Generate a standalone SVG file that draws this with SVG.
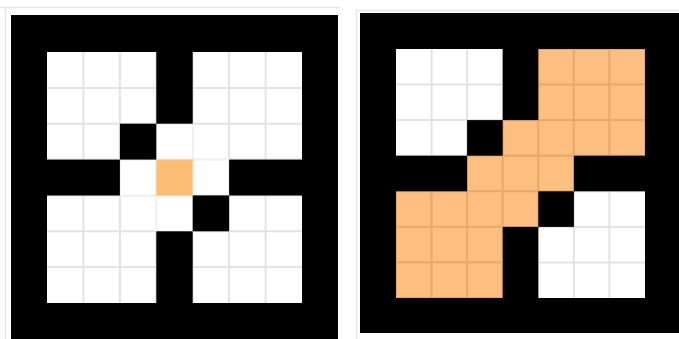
<svg xmlns="http://www.w3.org/2000/svg" width="679" height="339" viewBox="0 0 679 339">
<style>
.gl{fill:none;stroke:#e3e3e3;stroke-width:2}
.gf{fill:#fff;stroke:#f1f1f1;stroke-width:2}
.oc{fill:#fdbf80;stroke:#eaa96b;stroke-width:2}
.blk{fill:#000}
.wht{fill:#fff}
.frame{fill:#000;fill-rule:evenodd}
.edge{fill:none;stroke:#e4e7ea;stroke-width:1.5}
</style>
<rect width="679" height="339" fill="#fff"/>
<path class="edge" d="M0 7.5H340 M5.5 7V339"/>
<path class="edge" d="M356 10.5H679 M356.5 10V339"/>
<g id="left-grid">
<rect class="wht" x="47" y="52" width="255" height="251"/>
<path class="gl" d="M83.4 52V303M119.9 52V303M156.3 52V303M192.7 52V303M229.1 52V303M265.6 52V303M47 87.9H302M47 123.7H302M47 159.6H302M47 195.4H302M47 231.3H302M47 267.1H302"/>
<rect class="gf" x="156.3" y="123.7" width="36.4" height="35.9"/>
<rect class="gf" x="119.9" y="159.6" width="36.4" height="35.9"/>
<rect class="gf" x="192.7" y="159.6" width="36.4" height="35.9"/>
<rect class="gf" x="156.3" y="195.4" width="36.4" height="35.9"/>
<rect x="156.3" y="159.6" width="36.4" height="35.9" fill="#fbbd73" stroke="#f8d3a8" stroke-width="1"/>
<g class="blk">
<rect x="156.3" y="52" width="36.4" height="71.7"/>
<rect x="119.9" y="123.7" width="36.4" height="35.9"/>
<rect x="47" y="159.6" width="72.9" height="35.9"/>
<rect x="229.1" y="159.6" width="72.9" height="35.9"/>
<rect x="192.7" y="195.4" width="36.4" height="35.9"/>
<rect x="156.3" y="231.3" width="36.4" height="71.7"/>
</g>
<path class="frame" d="M11 15H338V339H11Z M47 52V303H302V52Z"/>
</g>
<g id="right-grid">
<rect class="wht" x="396" y="49" width="249" height="249"/>
<path class="gl" d="M431.6 49V298M467.1 49V298M502.7 49V298M538.3 49V298M573.9 49V298M609.4 49V298M396 84.6H645M396 120.1H645M396 155.7H645M396 191.3H645M396 226.9H645M396 262.4H645"/>
<g class="oc">
<rect x="538.3" y="49" width="35.6" height="35.6"/>
<rect x="573.9" y="49" width="35.6" height="35.6"/>
<rect x="609.4" y="49" width="35.6" height="35.6"/>
<rect x="538.3" y="84.6" width="35.6" height="35.6"/>
<rect x="573.9" y="84.6" width="35.6" height="35.6"/>
<rect x="609.4" y="84.6" width="35.6" height="35.6"/>
<rect x="502.7" y="120.1" width="35.6" height="35.6"/>
<rect x="538.3" y="120.1" width="35.6" height="35.6"/>
<rect x="573.9" y="120.1" width="35.6" height="35.6"/>
<rect x="609.4" y="120.1" width="35.6" height="35.6"/>
<rect x="467.1" y="155.7" width="35.6" height="35.6"/>
<rect x="502.7" y="155.7" width="35.6" height="35.6"/>
<rect x="538.3" y="155.7" width="35.6" height="35.6"/>
<rect x="396" y="191.3" width="35.6" height="35.6"/>
<rect x="431.6" y="191.3" width="35.6" height="35.6"/>
<rect x="467.1" y="191.3" width="35.6" height="35.6"/>
<rect x="502.7" y="191.3" width="35.6" height="35.6"/>
<rect x="396" y="226.9" width="35.6" height="35.6"/>
<rect x="431.6" y="226.9" width="35.6" height="35.6"/>
<rect x="467.1" y="226.9" width="35.6" height="35.6"/>
<rect x="396" y="262.4" width="35.6" height="35.6"/>
<rect x="431.6" y="262.4" width="35.6" height="35.6"/>
<rect x="467.1" y="262.4" width="35.6" height="35.6"/>
</g>
<g class="blk">
<rect x="502.7" y="49" width="35.6" height="71.1"/>
<rect x="467.1" y="120.1" width="35.6" height="35.6"/>
<rect x="396" y="155.7" width="71.1" height="35.6"/>
<rect x="573.9" y="155.7" width="71.1" height="35.6"/>
<rect x="538.3" y="191.3" width="35.6" height="35.6"/>
<rect x="502.7" y="226.9" width="35.6" height="71.1"/>
</g>
<path class="frame" d="M360 13H679V333H360Z M396 49V298H645V49Z"/>
</g>
</svg>
